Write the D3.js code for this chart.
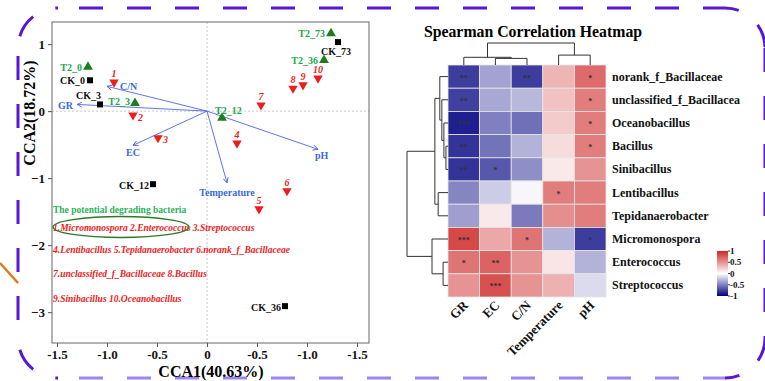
<!DOCTYPE html>
<html>
<head>
<meta charset="utf-8">
<script src="https://cdn.jsdelivr.net/npm/d3@7"></script>
<style>
body { margin: 0; background: #fff; }
svg { display: block; }
text { font-family: "Liberation Serif", "Times New Roman", serif; font-weight: bold; }
</style>
</head>
<body>
<svg id="mainSvg" width="765" height="381"></svg>
<script>
// ---------- CCA biplot data ----------
var siteNames = ["T2_0", "CK_0", "CK_3", "T2_3", "T2_12", "T2_73", "CK_73", "T2_36", "CK_12", "CK_36"];
var siteX = [-1.19, -1.17, -1.07, -0.72, 0.15, 1.24, 1.31, 1.17, -0.54, 0.78];
var siteY = [0.66, 0.46, 0.10, 0.12, -0.10, 1.16, 1.03, 0.76, -1.09, -2.91];

var speciesIds = ["1", "2", "3", "4", "5", "6", "7", "8", "9", "10"];
var speciesX = [-0.93, -0.74, -0.49, 0.30, 0.52, 0.80, 0.54, 0.86, 0.96, 1.11];
var speciesY = [0.43, -0.06, -0.40, -0.48, -1.46, -1.19, 0.09, 0.34, 0.39, 0.49];

var envNames = ["C/N", "GR", "EC", "Temperature", "pH"];
var envX = [-1.00, -1.30, -0.74, 0.20, 1.11];
var envY = [0.37, 0.10, -0.51, -1.07, -0.57];

var legendTitle = "The potential degrading bacteria";
var legendLines = [
    "1.Micromonospora 2.Enterococcus 3.Streptococcus",
    "4.Lentibacillus 5.Tepidanaerobacter 6.norank_f_Bacillaceae",
    "7.unclassified_f_Bacillaceae 8.Bacillus",
    "9.Sinibacillus 10.Oceanobacillus"
];

var xTickVals = [-1.5, -1, -0.5, 0, 0.5, 1, 1.5];
var xTickLabels = ["-1.5", "-1.0", "-0.5", "0", "-0.5", "-1.0", "-1.5"];
var yTickVals = [1, 0, -1, -2, -3];

// ---------- heatmap data ----------
var heatCols = ["GR", "EC", "C/N", "Temperature", "pH"];
var heatRows = ["norank_f_Bacillaceae", "unclassified_f_Bacillacea", "Oceanobacillus", "Bacillus",
    "Sinibacillus", "Lentibacillus", "Tepidanaerobacter", "Micromonospora", "Enterococcus", "Streptococcus"];
var heatValues = [
    [-0.76, -0.36, -0.76, 0.34, 0.68],
    [-0.75, -0.34, -0.28, 0.28, 0.60],
    [-0.88, -0.50, -0.56, 0.24, 0.60],
    [-0.80, -0.55, -0.30, 0.16, 0.60],
    [-0.80, -0.66, -0.44, 0.10, 0.50],
    [-0.48, -0.20, -0.03, 0.60, 0.60],
    [-0.38, 0.10, -0.52, 0.52, 0.60],
    [0.84, 0.40, 0.64, -0.30, -0.76],
    [0.64, 0.72, 0.50, 0.12, -0.30],
    [0.50, 0.80, 0.50, 0.36, -0.14]
];
var heatStars = [
    ["**", "", "**", "", "*"],
    ["**", "", "", "", "*"],
    ["***", "", "", "", "*"],
    ["**", "", "", "", "*"],
    ["**", "*", "", "", ""],
    ["", "", "", "*", ""],
    ["", "", "", "", ""],
    ["***", "", "*", "", "*"],
    ["*", "**", "", "", ""],
    ["", "***", "", "", ""]
];
// dendrograms: {h: merge height, c: children}
var colTree = {h: 1, c: [{h: 0.35, c: ["GR", {h: 0.3, c: ["EC", "C/N"]}]}, {h: 0.45, c: ["Temperature", "pH"]}]};
var rowTree = {h: 1, c: [
    {h: 0.32, c: [
        {h: 0.2, c: ["norank_f_Bacillaceae", {h: 0.15, c: ["unclassified_f_Bacillacea",
            {h: 0.1, c: ["Oceanobacillus", {h: 0.05, c: ["Bacillus", "Sinibacillus"]}]}]}]},
        {h: 0.24, c: ["Lentibacillus", "Tepidanaerobacter"]}]},
    {h: 0.39, c: ["Micromonospora", {h: 0.12, c: ["Enterococcus", "Streptococcus"]}]}
]};
var scaleTicks = [1, 0.5, 0, -0.5, -1];

var svg = d3.select("#mainSvg");

// ---------- decorative dashed frame ----------
var fr = {l: 18, t: 8, r: 765, b: 378, rad: 40};
function framePath(draw) { var p = d3.path(); draw(p); return p.toString(); }
var darkPurple = "#5a17d2", lightPurple = "#a184ee";
var frameSegs = [
    {d: framePath(function (p) { p.moveTo(fr.l + fr.rad, fr.t); p.lineTo(fr.r - fr.rad, fr.t); }), c: darkPurple, off: 27},
    {d: framePath(function (p) { p.moveTo(fr.r - fr.rad, fr.t); p.arcTo(fr.r, fr.t, fr.r, fr.t + fr.rad, fr.rad); }), c: darkPurple, off: 10},
    {d: framePath(function (p) { p.moveTo(fr.r, fr.t + fr.rad); p.lineTo(fr.r, fr.b - fr.rad); }), c: darkPurple, off: 0},
    {d: framePath(function (p) { p.moveTo(fr.r, fr.b - fr.rad); p.arcTo(fr.r, fr.b, fr.r - fr.rad, fr.b, fr.rad); }), c: darkPurple, off: 0},
    {d: framePath(function (p) { p.moveTo(fr.l + fr.rad, fr.b); p.lineTo(fr.r - fr.rad, fr.b); }), c: lightPurple, off: 27},
    {d: framePath(function (p) { p.moveTo(fr.l, fr.b - fr.rad); p.arcTo(fr.l, fr.b, fr.l + fr.rad, fr.b, fr.rad); }), c: darkPurple, off: 36},
    {d: framePath(function (p) { p.moveTo(fr.l, fr.t + fr.rad); p.lineTo(fr.l, fr.b - fr.rad); }), c: darkPurple, off: 40},
    {d: framePath(function (p) { p.moveTo(fr.l, fr.t + fr.rad); p.arcTo(fr.l, fr.t, fr.l + fr.rad, fr.t, fr.rad); }), c: darkPurple, off: 36}
];
svg.selectAll(".frame").data(frameSegs).enter().append("path").attr("class", "frame")
    .attr("d", function (d) { return d.d; }).attr("fill", "none")
    .attr("stroke", function (d) { return d.c; }).attr("stroke-width", 3)
    .attr("stroke-dasharray", "24,24").attr("stroke-dashoffset", function (d) { return d.off; });
// stray orange stroke at the left edge
svg.append("line").attr("x1", 0).attr("y1", 263).attr("x2", 18).attr("y2", 283)
    .attr("stroke", "#e0781e").attr("stroke-width", 2.5);

// ---------- CCA biplot ----------
var x = d3.scaleLinear().domain([-1.55, 1.62]).range([52, 369]);
var y = d3.scaleLinear().domain([-3.46, 1.33]).range([343, 22]);
var cca = svg.append("g");

cca.append("line").attr("x1", x(0)).attr("x2", x(0)).attr("y1", y.range()[1]).attr("y2", y.range()[0])
    .attr("stroke", "#c8c8c8").attr("stroke-dasharray", "2,2");
cca.append("line").attr("x1", x.range()[0]).attr("x2", x.range()[1]).attr("y1", y(0)).attr("y2", y(0))
    .attr("stroke", "#c8c8c8").attr("stroke-dasharray", "2,2");

var xAxis = cca.append("g").attr("transform", "translate(0," + y.range()[0] + ")")
    .call(d3.axisBottom(x).tickValues(xTickVals).tickFormat(function (d, i) { return xTickLabels[i]; }).tickSize(4));
var yAxis = cca.append("g").attr("transform", "translate(" + x.range()[0] + ",0)")
    .call(d3.axisLeft(y).tickValues(yTickVals).tickFormat(d3.format("d")).tickSize(4));
[xAxis, yAxis].forEach(function (a) {
    a.select(".domain").remove();
    a.selectAll("line").attr("stroke", "#555");
    a.selectAll("text").attr("font-size", 13).attr("fill", "#111")
        .style("font-family", "'Liberation Serif', serif").style("font-weight", "bold");
});
cca.append("rect").attr("x", x.range()[0]).attr("y", y.range()[1])
    .attr("width", x.range()[1] - x.range()[0]).attr("height", y.range()[0] - y.range()[1])
    .attr("fill", "none").attr("stroke", "#666");

cca.append("text").attr("x", 211).attr("y", 377).attr("text-anchor", "middle").attr("font-size", 16)
    .text("CCA1(40.63%)");
cca.append("text").attr("transform", "translate(35,113) rotate(-90)").attr("text-anchor", "middle")
    .attr("font-size", 16).text("CCA2(18.72%)");

// environmental arrows
var envBlue = "#4f63e6";
svg.append("defs").append("marker").attr("id", "arrowHead")
    .attr("viewBox", "0 0 10 10").attr("refX", 9).attr("refY", 5)
    .attr("markerWidth", 7).attr("markerHeight", 7).attr("orient", "auto")
    .append("path").attr("d", "M1,1 L9,5 L1,9").attr("fill", "none").attr("stroke", envBlue).attr("stroke-width", 1.4);

var envLabelPos = {
    "C/N": {a: "start", dx: 13, dy: 4},
    "GR": {a: "end", dx: -4, dy: 5},
    "EC": {a: "middle", dx: 0, dy: 11},
    "Temperature": {a: "middle", dx: 0, dy: 13},
    "pH": {a: "start", dx: -3, dy: 10}
};
var envData = envNames.map(function (n, i) { return {name: n, x: envX[i], y: envY[i]}; });
cca.selectAll(".env").data(envData).enter().append("line").attr("class", "env")
    .attr("x1", x(0)).attr("y1", y(0))
    .attr("x2", function (d) { return x(d.x); }).attr("y2", function (d) { return y(d.y); })
    .attr("stroke", envBlue).attr("stroke-width", 0.9).attr("marker-end", "url(#arrowHead)");
cca.selectAll(".envLabel").data(envData).enter().append("text").attr("class", "envLabel")
    .attr("x", function (d) { return x(d.x) + envLabelPos[d.name].dx; })
    .attr("y", function (d) { return y(d.y) + envLabelPos[d.name].dy; })
    .attr("text-anchor", function (d) { return envLabelPos[d.name].a; })
    .attr("font-size", 10).attr("fill", "#3a6ad8").text(function (d) { return d.name; });

// species (red down triangles)
var speciesLabelPos = {"2": {a: "start", dx: 5, dy: 6}, "3": {a: "start", dx: 5, dy: 5}};
var speciesData = speciesIds.map(function (n, i) { return {id: n, x: speciesX[i], y: speciesY[i]}; });
cca.selectAll(".species").data(speciesData).enter().append("path").attr("class", "species")
    .attr("d", d3.symbol().type(d3.symbolTriangle).size(38))
    .attr("transform", function (d) { return "translate(" + x(d.x) + "," + y(d.y) + ") rotate(180)"; })
    .attr("fill", "#ee1c1c");
cca.selectAll(".speciesLabel").data(speciesData).enter().append("text").attr("class", "speciesLabel")
    .attr("x", function (d) { var p = speciesLabelPos[d.id]; return x(d.x) + (p ? p.dx : 0); })
    .attr("y", function (d) { var p = speciesLabelPos[d.id]; return y(d.y) + (p ? p.dy : -5); })
    .attr("text-anchor", function (d) { var p = speciesLabelPos[d.id]; return p ? p.a : "middle"; })
    .attr("font-size", 10).attr("font-style", "italic").attr("fill", "#ee1c1c")
    .text(function (d) { return d.id; });

// sites
var siteLabelPos = {
    "T2_0": {a: "end", dx: -6, dy: 4}, "CK_0": {a: "end", dx: -5, dy: 4},
    "CK_3": {a: "end", dx: 1, dy: -5}, "T2_3": {a: "end", dx: -5, dy: 2},
    "T2_12": {a: "start", dx: -7, dy: -4}, "T2_73": {a: "end", dx: -6, dy: 4},
    "CK_73": {a: "middle", dx: -2, dy: 13}, "T2_36": {a: "end", dx: -6, dy: 4},
    "CK_12": {a: "end", dx: -4, dy: 5}, "CK_36": {a: "end", dx: -4, dy: 5}
};
var siteData = siteNames.map(function (n, i) { return {name: n, x: siteX[i], y: siteY[i], ck: n.indexOf("CK") === 0}; });
cca.selectAll(".site").data(siteData).enter().append("path").attr("class", "site")
    .attr("d", function (d) { return d3.symbol().type(d.ck ? d3.symbolSquare : d3.symbolTriangle).size(d.ck ? 36 : 42)(); })
    .attr("transform", function (d) { return "translate(" + x(d.x) + "," + y(d.y) + ")"; })
    .attr("fill", function (d) { return d.ck ? "#000" : "#1d7d1d"; });
cca.selectAll(".siteLabel").data(siteData).enter().append("text").attr("class", "siteLabel")
    .attr("x", function (d) { return x(d.x) + siteLabelPos[d.name].dx; })
    .attr("y", function (d) { return y(d.y) + siteLabelPos[d.name].dy; })
    .attr("text-anchor", function (d) { return siteLabelPos[d.name].a; })
    .attr("font-size", 10).attr("fill", function (d) { return d.ck ? "#111" : "#22a84c"; })
    .text(function (d) { return d.name; });

// bacteria legend inside the panel
cca.append("text").attr("x", 53).attr("y", 213).attr("font-size", 9.5).attr("fill", "#2ab35a").text(legendTitle);
cca.selectAll(".legLine").data(legendLines).enter().append("text").attr("class", "legLine")
    .attr("x", 53).attr("y", function (d, i) { return [231, 253, 277, 302][i]; })
    .attr("font-size", 9.5).attr("font-style", "italic").attr("fill", "#f01a1a").text(function (d) { return d; });
cca.append("ellipse").attr("cx", 121).attr("cy", 227).attr("rx", 68).attr("ry", 10.5)
    .attr("fill", "none").attr("stroke", "#2b7a2b").attr("stroke-width", 1.4);

// ---------- heatmap ----------
var hx = d3.scaleBand().domain(heatCols).range([448, 606]);
var hy = d3.scaleBand().domain(heatRows).range([65, 297]);
var color = d3.scaleLinear().domain([-1, 0, 1]).range(["#000080", "#ffffff", "#cd2626"]);
var heat = svg.append("g");

heat.append("text").attr("x", 533).attr("y", 37).attr("text-anchor", "middle").attr("font-size", 15.8)
    .text("Spearman Correlation Heatmap");

var cells = [];
heatRows.forEach(function (r, i) {
    heatCols.forEach(function (c, j) { cells.push({row: r, col: c, v: heatValues[i][j], s: heatStars[i][j]}); });
});
heat.selectAll(".cell").data(cells).enter().append("rect").attr("class", "cell")
    .attr("x", function (d) { return hx(d.col); }).attr("y", function (d) { return hy(d.row); })
    .attr("width", hx.bandwidth()).attr("height", hy.bandwidth())
    .attr("fill", function (d) { return color(d.v); }).attr("stroke", "#e6e6e6").attr("stroke-width", 0.8);
heat.selectAll(".star").data(cells.filter(function (d) { return d.s; })).enter().append("text").attr("class", "star")
    .attr("x", function (d) { return hx(d.col) + hx.bandwidth() / 2; })
    .attr("y", function (d) { return hy(d.row) + hy.bandwidth() / 2 + 4; })
    .attr("text-anchor", "middle").attr("font-size", 8).attr("font-weight", "normal").attr("fill", "#333")
    .text(function (d) { return d.s; });

heat.selectAll(".rowLabel").data(heatRows).enter().append("text").attr("class", "rowLabel")
    .attr("x", 612).attr("y", function (d) { return hy(d) + hy.bandwidth() / 2 + 4; })
    .attr("font-size", 12).attr("fill", "#111").text(function (d) { return d; });
heat.selectAll(".colLabel").data(heatCols).enter().append("text").attr("class", "colLabel")
    .attr("transform", function (d) { return "translate(" + (hx(d) + hx.bandwidth() / 2 + 5) + ",306) rotate(-45)"; })
    .attr("text-anchor", "end").attr("font-size", 13).attr("fill", "#111").text(function (d) { return d; });

// dendrograms
var colH = d3.scaleLinear().domain([0, 1]).range([65, 43]);
var rowH = d3.scaleLinear().domain([0, 1]).range([448, 407]);
function drawTree(node, leafPos, hScale, vertical) {
    if (typeof node === "string") return {p: leafPos(node), h: 0};
    var kids = node.c.map(function (k) { return drawTree(k, leafPos, hScale, vertical); });
    var pts = [];
    kids.forEach(function (k) { pts.push([[k.p, hScale(k.h)], [k.p, hScale(node.h)]]); });
    pts.push([[kids[0].p, hScale(node.h)], [kids[kids.length - 1].p, hScale(node.h)]]);
    pts.forEach(function (seg) {
        var a = vertical ? seg[0] : [seg[0][1], seg[0][0]];
        var b = vertical ? seg[1] : [seg[1][1], seg[1][0]];
        heat.append("line").attr("x1", a[0]).attr("y1", a[1]).attr("x2", b[0]).attr("y2", b[1])
            .attr("stroke", "#333").attr("stroke-width", 1);
    });
    return {p: (kids[0].p + kids[kids.length - 1].p) / 2, h: node.h};
}
drawTree(colTree, function (n) { return hx(n) + hx.bandwidth() / 2; }, colH, true);
drawTree(rowTree, function (n) { return hy(n) + hy.bandwidth() / 2; }, rowH, false);

// colour key
var grad = svg.select("defs").append("linearGradient").attr("id", "heatGrad")
    .attr("x1", 0).attr("y1", 1).attr("x2", 0).attr("y2", 0);
grad.selectAll("stop").data(d3.range(-1, 1.01, 0.25)).enter().append("stop")
    .attr("offset", function (d) { return (d + 1) / 2; }).attr("stop-color", function (d) { return color(d); });
var ky = d3.scaleLinear().domain([-1, 1]).range([296, 251]);
heat.append("rect").attr("x", 717).attr("y", ky(1)).attr("width", 11).attr("height", ky(-1) - ky(1))
    .attr("fill", "url(#heatGrad)");
heat.selectAll(".keyTick").data(scaleTicks).enter().append("line").attr("class", "keyTick")
    .attr("x1", 728).attr("x2", 730).attr("y1", function (d) { return ky(d); }).attr("y2", function (d) { return ky(d); })
    .attr("stroke", "#333");
heat.selectAll(".keyLabel").data(scaleTicks).enter().append("text").attr("class", "keyLabel")
    .attr("x", 730).attr("y", function (d) { return ky(d) + 3; })
    .attr("font-size", 9).attr("fill", "#111").text(function (d) { return d; });
</script>
</body>
</html>
